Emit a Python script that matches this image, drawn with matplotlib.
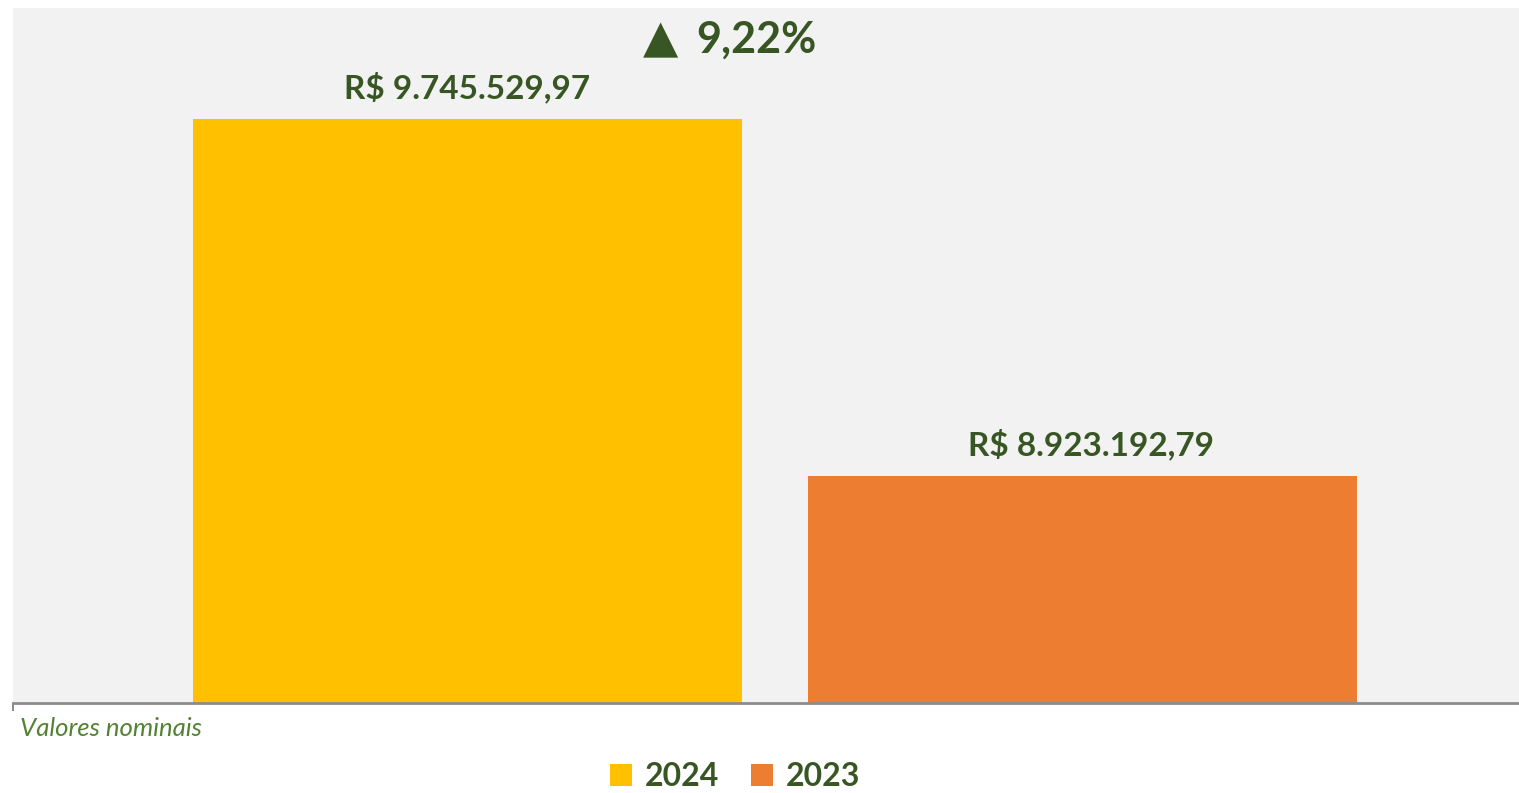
import matplotlib.pyplot as plt

plt.rcParams['font.family'] = ['Lato', 'DejaVu Sans']

# data
years = ['2024', '2023']
values = [9745529.97, 8923192.79]
colors = ['#FFC000', '#ED7D31']

GREEN = '#375623'
LIGHT_GREEN = '#548235'


def brl(v):
    s = f"{v:,.2f}"
    s = s.replace(',', 'X').replace('.', ',').replace('X', '.')
    return 'R$ ' + s


def main():
    W, H = 1519, 793
    fig = plt.figure(figsize=(W / 100, H / 100), dpi=100)
    ax = fig.add_axes([13 / W, 1 - 703 / H, (W - 13) / W, 695 / H])
    ax.set_facecolor('#F2F2F2')

    xs = [0, 1]
    bars = ax.bar(xs, values, width=0.893, color=colors, label=years, zorder=2)
    ax.set_ylim(8.4e6, 10.0e6)
    left, right = -0.739, 1.71
    ax.set_xlim(left, right)

    # value labels (second one sits a bit right of its bar, as in the original)
    for x, v, dx in zip(xs, values, [0, 6]):
        ax.annotate(brl(v), (x, v), xytext=(dx, 11), textcoords='offset points',
                    ha='center', va='bottom', fontsize=24, fontweight='bold', color=GREEN)

    for s in ['top', 'right', 'left']:
        ax.spines[s].set_visible(False)
    ax.spines['bottom'].set_color('#8C8C8C')
    ax.spines['bottom'].set_linewidth(2)
    ax.set_yticks([])
    ax.set_xticks([left])
    ax.set_xticklabels([''])
    ax.tick_params(axis='x', direction='out', length=6, width=1.5, color='#8C8C8C')

    # variation
    pct = (values[0] / values[1] - 1) * 100
    pct_txt = f"{pct:.2f}".replace('.', ',') + '%'
    fig.text(660 / W, 1 - 40 / H, '▲', ha='center', va='center',
             fontsize=33, color=GREEN, family=['DejaVu Sans'])
    fig.text(696 / W, 1 - 40 / H, pct_txt, ha='left', va='center',
             fontsize=31, fontweight='bold', color=GREEN)

    fig.text(20 / W, 1 - 729 / H, 'Valores nominais', ha='left', va='center',
             fontsize=18.5, style='italic', color=LIGHT_GREEN)

    leg = fig.legend(handles=list(bars), labels=years, loc='center', ncol=2,
                     bbox_to_anchor=(735 / W, 1 - 777 / H), frameon=False,
                     handlelength=0.68, handleheight=0.68, handletextpad=0.4,
                     columnspacing=1.0, prop={'size': 23, 'weight': 'bold'})
    for t in leg.get_texts():
        t.set_color(GREEN)

    fig.savefig('out.png', dpi=100)


if __name__ == "__main__":
    main()
